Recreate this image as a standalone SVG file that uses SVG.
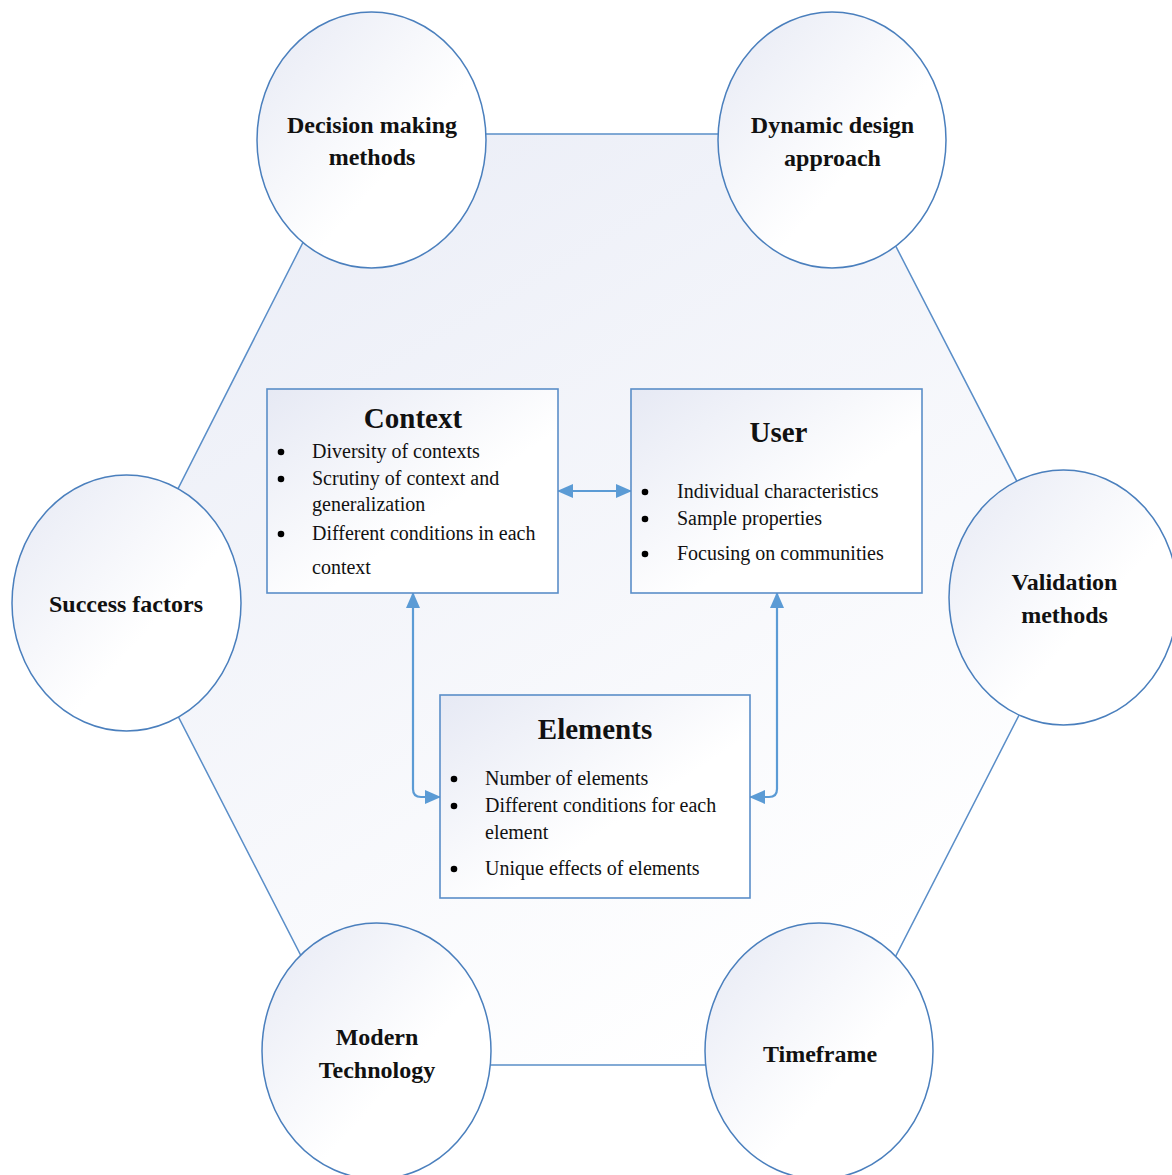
<svg xmlns="http://www.w3.org/2000/svg" width="1172" height="1175" viewBox="0 0 1172 1175">
<defs>
<linearGradient id="gHex" x1="0" y1="0" x2="0.6" y2="1">
<stop offset="0" stop-color="#e9ecf6"/>
<stop offset="1" stop-color="#ffffff"/>
</linearGradient>
<linearGradient id="gNode" x1="0" y1="0" x2="1" y2="1">
<stop offset="0" stop-color="#e6e9f4"/>
<stop offset="0.6" stop-color="#ffffff"/>
<stop offset="1" stop-color="#ffffff"/>
</linearGradient>
<marker id="ah" viewBox="0 0 16 14" refX="15" refY="7" markerWidth="16" markerHeight="14" markerUnits="userSpaceOnUse" orient="auto-start-reverse">
<path d="M0,0 L16,7 L0,14 Z" fill="#5b9bd5"/>
</marker>
</defs>
<style>
.hex{fill:url(#gHex);stroke:#5a8ec8;stroke-width:1.5}
.circ{fill:url(#gNode);stroke:#4a7fbd;stroke-width:1.5}
.box{fill:url(#gNode);stroke:#5a8ec8;stroke-width:1.6}
.lbl{font-family:"Liberation Serif","Times New Roman",serif;font-weight:bold;font-size:24px;fill:#111;text-anchor:middle}
.ttl{font-family:"Liberation Serif","Times New Roman",serif;font-weight:bold;font-size:29px;fill:#111;text-anchor:middle}
.itm{font-family:"Liberation Serif","Times New Roman",serif;font-size:20px;fill:#111}
.bul{fill:#000}
.con{fill:none;stroke:#5b9bd5;stroke-width:2.2}
</style>
<rect width="1172" height="1175" fill="#ffffff"/>
<polygon class="hex" points="358,134 838,134 1078,600 840,1065 357,1065 120,603"/>
<g id="node-decision">
<ellipse class="circ" cx="371.5" cy="140" rx="114.5" ry="128"/>
<text class="lbl" x="372" y="133">Decision making</text>
<text class="lbl" x="372" y="165">methods</text>
</g>
<g id="node-dynamic">
<ellipse class="circ" cx="832" cy="140" rx="114" ry="128"/>
<text class="lbl" x="832.5" y="133">Dynamic design</text>
<text class="lbl" x="832.5" y="166">approach</text>
</g>
<g id="node-success">
<ellipse class="circ" cx="126.5" cy="603" rx="114.5" ry="128"/>
<text class="lbl" x="126" y="612">Success factors</text>
</g>
<g id="node-validation">
<ellipse class="circ" cx="1063.5" cy="597.5" rx="114.5" ry="127.5"/>
<text class="lbl" x="1064.5" y="590">Validation</text>
<text class="lbl" x="1064.5" y="623">methods</text>
</g>
<g id="node-modern">
<ellipse class="circ" cx="376.5" cy="1051" rx="114.5" ry="128"/>
<text class="lbl" x="377" y="1045">Modern</text>
<text class="lbl" x="377" y="1078">Technology</text>
</g>
<g id="node-timeframe">
<ellipse class="circ" cx="819" cy="1051" rx="114" ry="128"/>
<text class="lbl" x="820" y="1062">Timeframe</text>
</g>
<g id="connectors">
<line class="con" x1="558" y1="491" x2="631" y2="491" marker-start="url(#ah)" marker-end="url(#ah)"/>
<path class="con" d="M413,593 L413,789 Q413,797 421,797 L440,797" marker-start="url(#ah)" marker-end="url(#ah)"/>
<path class="con" d="M777,593 L777,789 Q777,797 769,797 L750,797" marker-start="url(#ah)" marker-end="url(#ah)"/>
</g>
<g id="node-context">
<rect class="box" x="267" y="389" width="291" height="204"/>
<text class="ttl" x="413" y="428">Context</text>
<circle class="bul" cx="281" cy="452" r="3.3"/>
<text class="itm" x="312" y="458">Diversity of contexts</text>
<circle class="bul" cx="281" cy="479" r="3.3"/>
<text class="itm" x="312" y="485">Scrutiny of context and</text>
<text class="itm" x="312" y="511">generalization</text>
<circle class="bul" cx="281" cy="534" r="3.3"/>
<text class="itm" x="312" y="540">Different conditions in each</text>
<text class="itm" x="312" y="574">context</text>
</g>
<g id="node-user">
<rect class="box" x="631" y="389" width="291" height="204"/>
<text class="ttl" x="778.5" y="442">User</text>
<circle class="bul" cx="645" cy="492" r="3.3"/>
<text class="itm" x="677" y="498">Individual characteristics</text>
<circle class="bul" cx="645" cy="519" r="3.3"/>
<text class="itm" x="677" y="525">Sample properties</text>
<circle class="bul" cx="645" cy="554" r="3.3"/>
<text class="itm" x="677" y="560">Focusing on communities</text>
</g>
<g id="node-elements">
<rect class="box" x="440" y="695" width="310" height="203"/>
<text class="ttl" x="595" y="739">Elements</text>
<circle class="bul" cx="454" cy="779" r="3.3"/>
<text class="itm" x="485" y="785">Number of elements</text>
<circle class="bul" cx="454" cy="806" r="3.3"/>
<text class="itm" x="485" y="812">Different conditions for each</text>
<text class="itm" x="485" y="839">element</text>
<circle class="bul" cx="454" cy="869" r="3.3"/>
<text class="itm" x="485" y="875">Unique effects of elements</text>
</g>
</svg>
